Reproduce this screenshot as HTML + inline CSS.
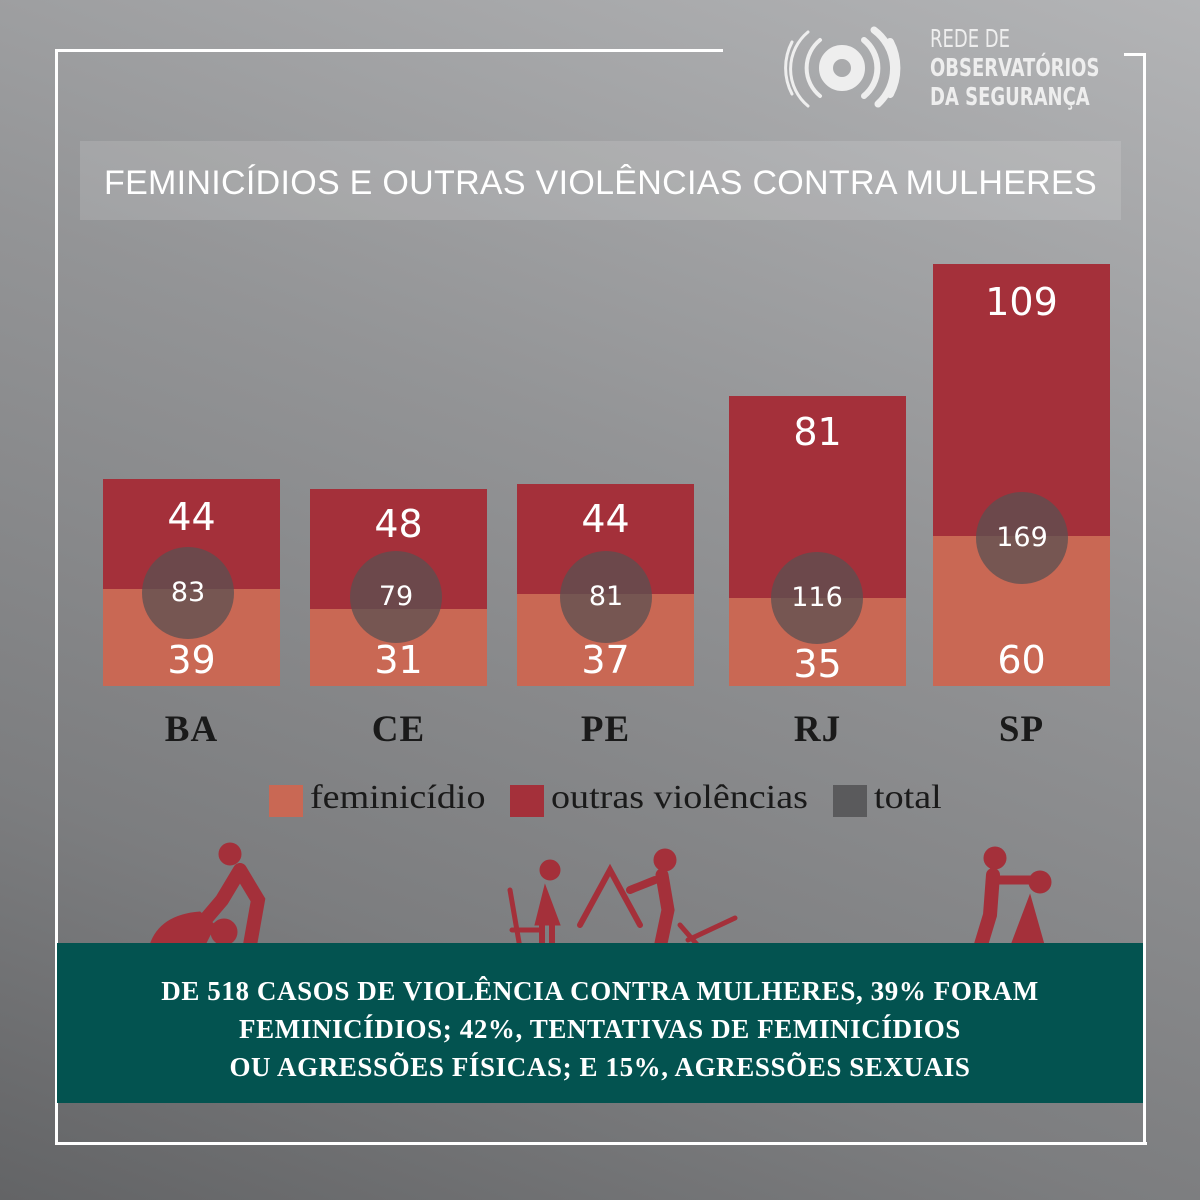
<!DOCTYPE html>
<html><head><meta charset="utf-8"><style>
body{margin:0;width:1200px;height:1200px;overflow:hidden;font-family:"Liberation Sans",sans-serif;}
#bg{position:absolute;left:0;top:0;width:1200px;height:1200px;background:linear-gradient(200deg,#b3b4b6 0%,#939496 40%,#7c7d7f 75%,#636466 100%);}
.abs{position:absolute}
.bar{position:absolute;width:177px}
.dk{background:#a4303a}
.lt{background:#c96854}
.num{position:absolute;color:#fff;font-size:38px;text-align:center;width:177px;font-family:"DejaVu Sans",sans-serif}
.circ{position:absolute;width:92px;height:92px;border-radius:50%;background:rgba(90,80,82,0.75);color:#fff;font-size:27px;line-height:92px;text-align:center;font-family:"DejaVu Sans",sans-serif}
.st{position:absolute;font-family:"Liberation Serif",serif;font-weight:bold;font-size:37px;color:#1a1a1a;width:177px;text-align:center;letter-spacing:1px}
.lg{position:absolute;top:779px;font-family:'Liberation Serif',serif;font-size:34px;color:#1a1a1a;transform-origin:left top}
</style></head><body>
<div id="bg"></div>
<div class="abs" style="left:55px;top:49px;width:668px;height:3px;background:#fff"></div>
<div class="abs" style="left:55px;top:49px;width:3px;height:1096px;background:#fff"></div>
<div class="abs" style="left:55px;top:1142px;width:1092px;height:3px;background:#fff"></div>
<div class="abs" style="left:1143px;top:53px;width:3px;height:1092px;background:#fff"></div>
<div class="abs" style="left:1124px;top:53px;width:22px;height:3px;background:#fff"></div>
<svg class="abs" style="left:770px;top:20px" width="160" height="100" viewBox="0 0 160 100">
<g fill="none" stroke="#eee" stroke-linecap="round">
<circle cx="72" cy="48" r="16" stroke-width="14"/>
<path d="M50 20 A36 36 0 0 0 50 76" stroke-width="4"/>
<path d="M94 20 A36 36 0 0 1 94 76" stroke-width="6"/>
<path d="M38 12 A48 48 0 0 0 38 86" stroke-width="3"/>
<path d="M104 10 A48 48 0 0 1 108 84" stroke-width="7"/>
<path d="M22 22 A56 56 0 0 0 22 74" stroke-width="3"/>
<path d="M120 22 A56 56 0 0 1 120 74" stroke-width="8"/>
</g></svg>
<div class="abs" style="left:930px;top:24px;color:#eee;font-size:25px;line-height:29px;font-family:'DejaVu Sans Condensed','Liberation Sans Narrow',sans-serif;transform:scaleX(0.8);transform-origin:left top">
<div style="font-weight:normal">REDE DE</div><div style="font-weight:bold">OBSERVATÓRIOS</div><div style="font-weight:bold">DA SEGURANÇA</div></div>
<div class="abs" style="left:80px;top:141px;width:1041px;height:79px;background:rgba(255,255,255,0.13)"></div>
<div class="abs" style="left:80px;top:164px;width:1041px;text-align:center;color:#fff;font-size:34px;letter-spacing:0.3px">FEMINICÍDIOS E OUTRAS VIOLÊNCIAS CONTRA MULHERES</div>

<div class="bar dk" style="left:103px;top:479px;height:110px"></div><div class="bar lt" style="left:103px;top:589px;height:97px"></div>
<div class="bar dk" style="left:310px;top:489px;height:120px"></div><div class="bar lt" style="left:310px;top:609px;height:77px"></div>
<div class="bar dk" style="left:517px;top:484px;height:110px"></div><div class="bar lt" style="left:517px;top:594px;height:92px"></div>
<div class="bar dk" style="left:729px;top:396px;height:202px"></div><div class="bar lt" style="left:729px;top:598px;height:88px"></div>
<div class="bar dk" style="left:933px;top:264px;height:272px"></div><div class="bar lt" style="left:933px;top:536px;height:150px"></div>

<div class="num" style="left:103px;top:495px">44</div><div class="num" style="left:103px;top:638px">39</div>
<div class="num" style="left:310px;top:502px">48</div><div class="num" style="left:310px;top:638px">31</div>
<div class="num" style="left:517px;top:497px">44</div><div class="num" style="left:517px;top:638px">37</div>
<div class="num" style="left:729px;top:410px">81</div><div class="num" style="left:729px;top:642px">35</div>
<div class="num" style="left:933px;top:280px">109</div><div class="num" style="left:933px;top:638px">60</div>

<div class="circ" style="left:142px;top:547px">83</div>
<div class="circ" style="left:350px;top:551px">79</div>
<div class="circ" style="left:560px;top:551px">81</div>
<div class="circ" style="left:771px;top:552px">116</div>
<div class="circ" style="left:976px;top:492px">169</div>

<div class="st" style="left:103px;top:708px">BA</div>
<div class="st" style="left:310px;top:708px">CE</div>
<div class="st" style="left:517px;top:708px">PE</div>
<div class="st" style="left:729px;top:708px">RJ</div>
<div class="st" style="left:933px;top:708px">SP</div>

<div class="abs" style="left:269px;top:785px;width:34px;height:32px;background:#c96854"></div>
<div class="lg" style="left:310px;transform:scaleX(1.12)">feminicídio</div>
<div class="abs" style="left:510px;top:785px;width:34px;height:32px;background:#a4303a"></div>
<div class="lg" style="left:551px;transform:scaleX(1.12)">outras violências</div>
<div class="abs" style="left:833px;top:785px;width:34px;height:32px;background:#5a5a5c"></div>
<div class="lg" style="left:874px;transform:scaleX(1.12)">total</div>

<svg class="abs" style="left:0;top:830px" width="1200" height="120">
<g fill="#a4303a" stroke="#a4303a" stroke-linecap="round">
<circle cx="230" cy="24" r="11"/><path d="M240 40 L258 70 L250 115 M240 40 L222 70 L205 90" stroke-width="14" fill="none"/>
<path d="M150 115 Q160 85 200 82 L215 95 L205 115 Z"/><circle cx="224" cy="102" r="13"/>
<circle cx="550" cy="40" r="10"/><path d="M545 55 L535 95 L560 95 Z"/><path d="M542 95 L542 118 M552 95 L552 118" stroke-width="6"/>
<path d="M510 60 L520 118 M512 100 L540 100" stroke-width="5" fill="none"/>
<path d="M580 95 L610 40 L640 95" stroke-width="6" fill="none"/>
<circle cx="665" cy="30" r="11"/><path d="M662 45 L668 80 L660 118" stroke-width="13" fill="none"/><path d="M655 50 L630 60" stroke-width="8"/>
<path d="M680 95 L700 118 M688 110 L735 88" stroke-width="5" fill="none"/>
<circle cx="995" cy="28" r="11"/><path d="M993 45 L990 85 L980 118" stroke-width="14" fill="none"/><path d="M995 50 L1030 50" stroke-width="9"/>
<circle cx="1040" cy="52" r="11"/><path d="M1030 65 L1010 118 L1045 118 Z"/>
</g></svg>

<div class="abs" style="left:57px;top:943px;width:1086px;height:160px;background:#035350"></div>
<div class="abs" style="left:57px;top:972px;width:1086px;text-align:center;color:#fff;font-family:'Liberation Serif',serif;font-weight:bold;font-size:27px;line-height:38px;letter-spacing:0.6px">DE 518 CASOS DE VIOLÊNCIA CONTRA MULHERES, 39% FORAM<br>FEMINICÍDIOS; 42%, TENTATIVAS DE FEMINICÍDIOS<br>OU AGRESSÕES FÍSICAS; E 15%, AGRESSÕES SEXUAIS</div>
</body></html>
